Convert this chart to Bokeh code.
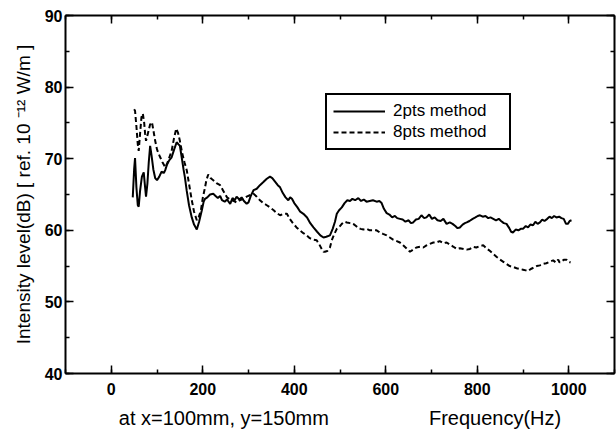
from bokeh.plotting import figure
from bokeh.models import LinearAxis, SingleIntervalTicker, Range1d
from bokeh.embed import file_html
from bokeh.resources import INLINE

# ---- data ----
freq_2pts = [47, 50, 52, 55, 58, 60, 63, 67, 71, 74, 76, 79, 82, 85, 88, 92, 96, 100, 105, 110,
             115, 118, 122, 127, 132, 137, 143, 147, 150, 154, 158, 161, 165, 170, 176, 181, 187,
             192, 198, 202, 205, 210, 216, 223, 228, 233, 238, 242, 248, 253, 260, 265, 270, 274,
             280, 285, 290, 296, 300, 305, 311, 318, 325, 332, 340, 347, 352, 358, 364, 369, 375,
             381, 387, 391, 395, 400, 407, 413, 420, 428, 435, 442, 450, 457, 464, 470, 478, 484,
             489, 493, 498, 504, 510, 516, 522, 527, 533, 540, 546, 552, 558, 565, 572, 580, 586,
             591, 596, 602, 608, 614, 620, 625, 631, 637, 643, 650, 655, 660, 666, 672, 678, 684,
             689, 695, 701, 707, 713, 720, 726, 733, 740, 746, 752, 757, 762, 768, 773, 777, 783,
             790, 796, 801, 806, 812, 818, 824, 829, 835, 841, 847, 852, 858, 864, 870, 874, 878,
             884, 890, 895, 900, 906, 911, 916, 922, 927, 932, 937, 942, 947, 953, 958, 963, 968,
             973, 979, 984, 989, 994, 998, 1002, 1006]
level_2pts = [64.6, 68.5, 70.1, 66.0, 63.5, 63.3, 65.5, 67.5, 68.1, 66.0, 64.7, 66.5, 69.5, 71.8,
              70.5, 68.5, 67.3, 67.0, 67.5, 68.2, 68.0, 68.4, 69.2, 69.8, 70.2, 71.2, 72.3, 72.0,
              71.8, 70.2, 68.5, 67.4, 65.5, 63.5, 61.8, 60.8, 60.1, 61.2, 62.8, 64.0, 64.4, 64.6,
              65.0, 65.1, 64.8, 64.5, 64.8, 64.2, 64.0, 64.3, 63.7, 64.5, 64.2, 64.7, 64.3, 64.6,
              64.1, 63.7, 63.9, 64.8, 65.6, 65.8, 66.3, 66.7, 67.2, 67.5, 67.3, 66.8, 66.3, 66.0,
              65.2, 64.6, 64.2, 64.6, 64.4, 63.8, 63.2, 62.6, 62.3, 61.8, 61.0, 60.4, 59.8, 59.3,
              59.0, 59.1, 59.3, 60.2, 61.2, 62.3, 62.8, 63.2, 63.8, 64.2, 64.1, 64.4, 64.2, 64.5,
              64.1, 64.3, 64.0, 64.1, 64.2, 64.0, 64.1, 63.8, 63.0, 62.4, 62.2, 61.8, 62.0, 61.7,
              61.6, 61.5, 61.2, 61.4, 61.0, 61.1, 61.5, 61.6, 62.1, 61.7, 61.8, 62.2, 61.6, 61.8,
              61.4, 61.3, 61.6, 60.9, 61.1, 60.9, 60.6, 60.3, 60.4, 60.8, 61.0, 61.1, 61.3, 61.6,
              61.8, 62.0, 62.1, 61.9, 62.0, 61.7, 61.8, 61.6, 61.4, 61.6, 61.3, 61.0, 60.9, 60.3,
              59.8, 59.7, 60.1, 60.0, 60.2, 60.2, 60.6, 60.4, 60.8, 60.7, 61.2, 60.9, 61.1, 61.5,
              61.3, 61.6, 61.9, 61.7, 62.0, 61.8, 61.9, 61.7, 61.6, 60.9, 60.9, 61.3, 61.4]

freq_8pts = [50, 52, 55, 58, 60, 63, 66, 69, 72, 74, 76, 80, 85, 89, 92, 96, 100, 103, 107, 112,
             118, 122, 127, 132, 137, 142, 146, 150, 155, 160, 165, 170, 176, 181, 187, 191, 196,
             200, 205, 208, 212, 217, 223, 230, 238, 245, 253, 260, 267, 274, 281, 289, 296, 303,
             311, 318, 325, 332, 340, 347, 355, 362, 369, 376, 384, 390, 397, 405, 412, 420, 427,
             434, 441, 449, 455, 460, 464, 467, 472, 478, 482, 487, 493, 499, 504, 510, 515, 522,
             529, 535, 540, 545, 551, 558, 565, 572, 580, 587, 594, 602, 609, 616, 624, 631, 638,
             645, 653, 660, 667, 675, 682, 689, 696, 704, 711, 718, 726, 733, 740, 748, 755, 762,
             770, 777, 784, 791, 798, 806, 813, 820, 828, 835, 842, 850, 857, 864, 871, 878, 886,
             893, 900, 906, 911, 917, 924, 930, 937, 944, 951, 958, 966, 972, 977, 980, 985, 990,
             995, 1000, 1004]
level_8pts = [76.9, 76.7, 74.5, 72.0, 71.1, 73.5, 75.8, 76.3, 75.0, 73.5, 72.5, 73.5, 74.8, 75.1,
              74.0, 72.5, 71.3, 70.8, 70.2, 69.5, 68.8, 69.3, 70.2, 71.1, 72.8, 74.2, 73.6, 72.5,
              70.8, 69.5, 68.4, 66.5, 64.2, 62.6, 61.4, 61.8, 62.8, 64.5, 66.0, 67.0, 67.8, 67.3,
              67.0, 66.6, 66.3, 65.5, 64.6, 64.3, 64.1, 63.9, 64.2, 64.4, 64.7, 64.9, 65.1, 64.7,
              64.2, 63.8, 63.5, 63.2, 62.8, 62.4, 62.1, 62.3, 62.3, 61.6, 61.0, 60.4, 60.0, 59.6,
              59.3, 58.9, 58.7, 58.6, 58.0, 57.4, 57.0, 57.0, 57.1, 57.6, 58.6, 59.4, 60.2, 60.5,
              60.9, 61.2, 61.1, 61.0, 60.9, 60.6, 60.3, 60.2, 60.1, 60.2, 60.0, 60.0, 60.0, 59.7,
              59.5, 59.3, 59.0, 58.7, 58.5, 58.3, 57.9, 57.5, 57.0, 57.3, 57.6, 57.7, 57.6, 57.9,
              58.1, 58.3, 58.3, 58.5, 58.2, 58.3, 58.0, 57.7, 57.4, 57.5, 57.4, 57.3, 57.4, 57.7,
              57.6, 57.8, 57.9, 57.5, 57.1, 56.7, 56.3, 55.9, 55.6, 55.3, 55.0, 54.9, 54.7, 54.6,
              54.5, 54.4, 54.3, 54.6, 54.8, 55.0, 55.1, 55.3, 55.4, 55.6, 55.8, 55.5, 55.9, 55.5,
              55.7, 55.9, 55.9, 55.6, 55.5]

series_labels = ["2pts method", "8pts method"]
y_label = "Intensity level(dB) [ ref. 10 \u207b\u00b9\u00b2 W/m ]"
x_label = "Frequency(Hz)"
note_label = "at x=100mm, y=150mm"

FONT = "Liberation Sans"

p = figure(width=616, height=438, output_backend="svg", toolbar_location=None,
           x_range=Range1d(-100, 1100), y_range=Range1d(40, 90),
           min_border_left=65, min_border_right=2, min_border_top=15, min_border_bottom=65)
p.background_fill_color = "white"
p.border_fill_color = "white"
p.outline_line_color = None
p.xgrid.visible = False
p.ygrid.visible = False

p.line(freq_2pts, level_2pts, line_color="black", line_width=2, legend_label=series_labels[0])
p.line(freq_8pts, level_8pts, line_color="black", line_width=2, line_dash="5 3",
       legend_label=series_labels[1])

xt = SingleIntervalTicker(interval=200, num_minor_ticks=2)
yt = SingleIntervalTicker(interval=10, num_minor_ticks=2)

def style_axis(ax, show_labels):
    ax.axis_line_color = "black"
    ax.axis_line_width = 2
    ax.major_tick_in = 8
    ax.major_tick_out = 0
    ax.minor_tick_in = 4
    ax.minor_tick_out = 0
    ax.major_tick_line_width = 1.5
    ax.minor_tick_line_width = 1.5
    ax.major_tick_line_color = "black"
    ax.minor_tick_line_color = "black"
    if show_labels:
        ax.major_label_text_font = FONT
        ax.major_label_text_font_size = "16px"
        ax.major_label_text_font_style = "bold"
        ax.major_label_text_color = "black"
    else:
        ax.major_label_text_font_size = "0px"
        ax.major_label_standoff = 0
        ax.major_label_text_alpha = 0

p.xaxis.ticker = xt
p.yaxis.ticker = yt
style_axis(p.xaxis[0], True)
style_axis(p.yaxis[0], True)
p.xaxis.major_label_standoff = 9
p.yaxis.major_label_standoff = 3
p.yaxis.axis_label = y_label
p.yaxis.axis_label_text_font = FONT
p.yaxis.axis_label_text_font_size = "19px"
p.yaxis.axis_label_text_font_style = "normal"
p.yaxis.axis_label_text_color = "black"
p.yaxis.axis_label_standoff = 8

# bottom line: position note at the left, axis title further right (same row)
p.xaxis.axis_label = note_label + "\u00a0" * 18 + x_label
p.xaxis.axis_label_text_font = FONT
p.xaxis.axis_label_text_font_size = "20px"
p.xaxis.axis_label_text_font_style = "normal"
p.xaxis.axis_label_text_color = "black"
p.xaxis.axis_label_standoff = 9

top_ax = LinearAxis(ticker=SingleIntervalTicker(interval=200, num_minor_ticks=2))
right_ax = LinearAxis(ticker=SingleIntervalTicker(interval=10, num_minor_ticks=2))
style_axis(top_ax, False)
style_axis(right_ax, False)
p.add_layout(top_ax, "above")
p.add_layout(right_ax, "right")

lg = p.legend[0]
lg.location = (260, 223)
lg.border_line_color = "black"
lg.border_line_alpha = 1
lg.border_line_width = 2
lg.background_fill_alpha = 1
lg.label_text_font = FONT
lg.label_text_font_size = "17px"
lg.label_text_color = "black"
lg.glyph_width = 52
lg.glyph_height = 16
lg.label_height = 16
lg.label_width = 110
lg.label_standoff = 8
lg.padding = 6
lg.spacing = 1
lg.margin = 0

open("out.html", "w").write(file_html(p, INLINE))
